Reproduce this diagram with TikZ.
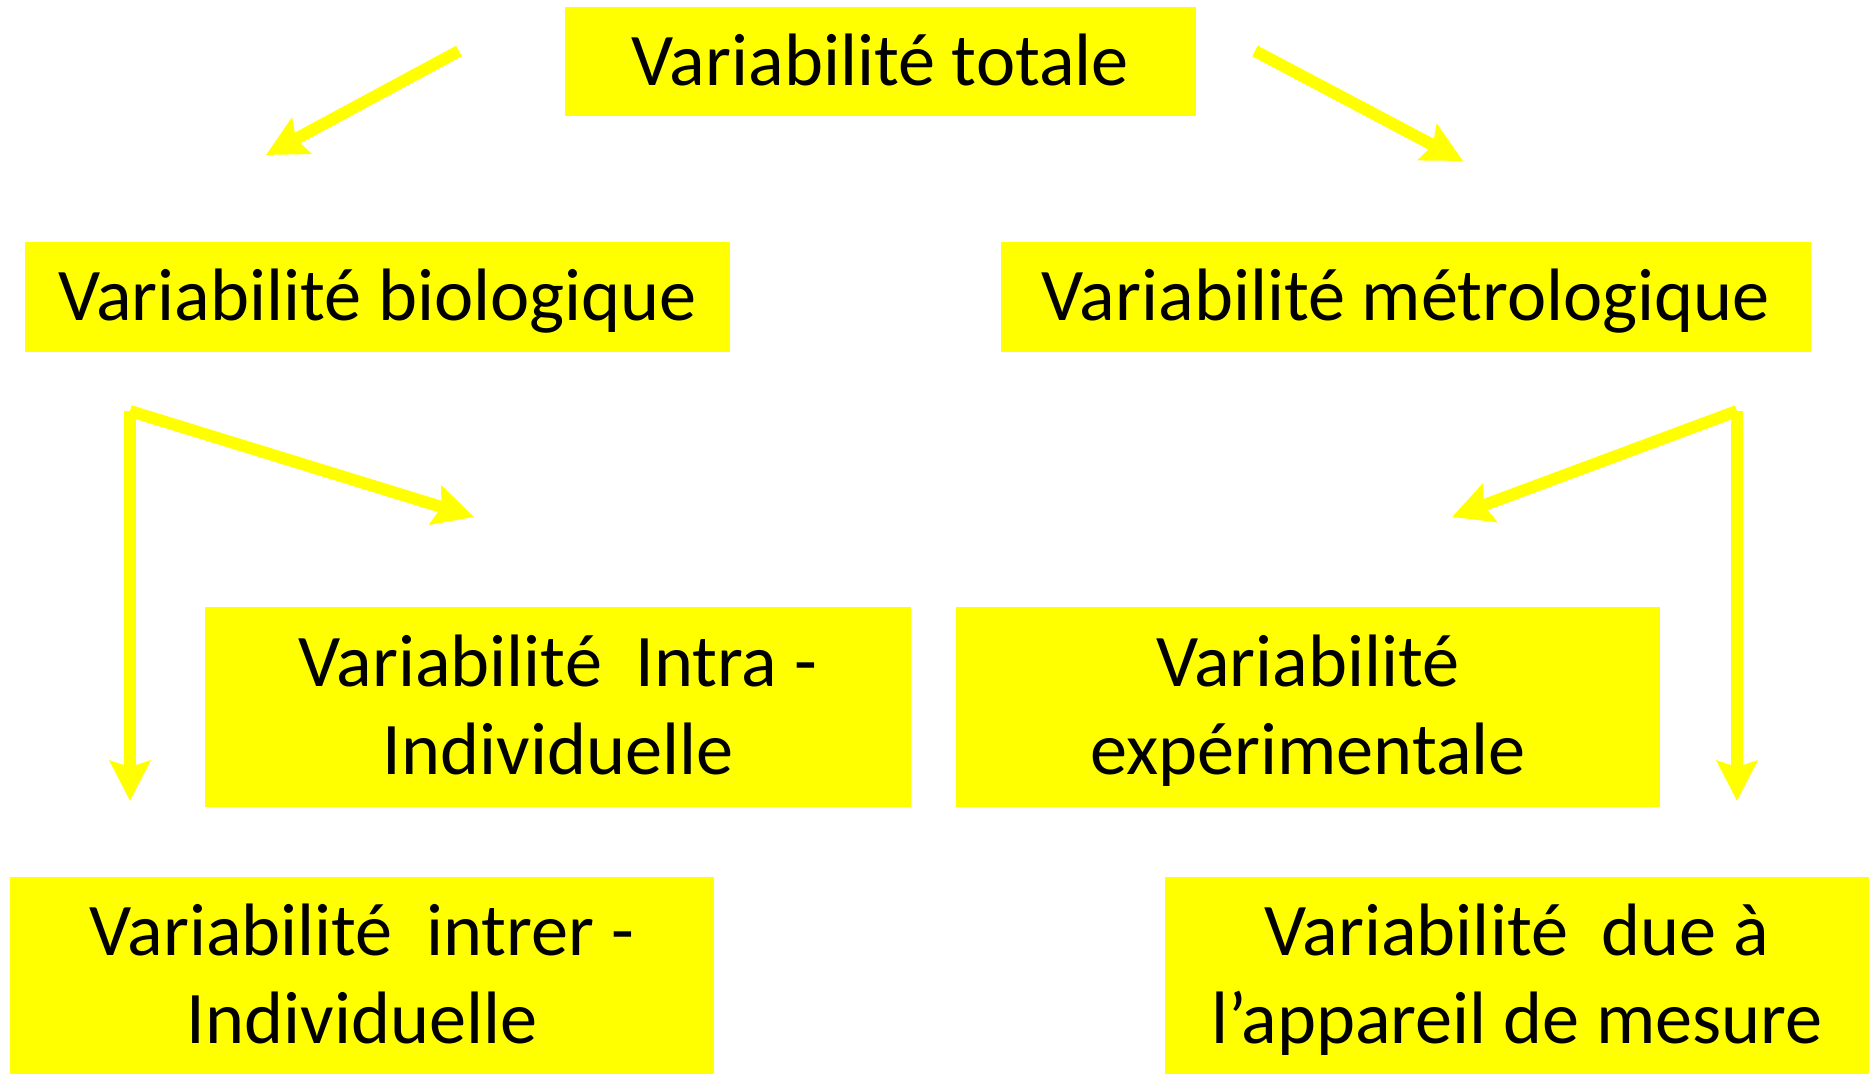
\documentclass[tikz,border=0pt]{standalone}
\usepackage{fontspec}
\setmainfont{Carlito}
\usetikzlibrary{arrows.meta}
\definecolor{boxyellow}{HTML}{FFFF00}
\newcommand\lnstrut{\rule[-0.25em]{0pt}{1.144em}}
\begin{document}
\begin{tikzpicture}[x=1pt,y=-1pt,
  box/.style={fill=boxyellow, inner sep=0pt, align=center,
    font=\fontsize{74.3}{88}\selectfont},
  conn/.style={draw=boxyellow, line width=12pt,
    -{Stealth[length=40pt,width=40pt,inset=6pt]}}]
\useasboundingbox (0,0) rectangle (1869,1074);
\node[box, minimum width=631pt, minimum height=109pt] (tot) at (880.5,61.5) {\lnstrut Variabilité totale};
\node[box, minimum width=705pt, minimum height=110pt] (bio) at (377.5,297) {\lnstrut Variabilité biologique};
\node[box, minimum width=810pt, minimum height=110pt] (met) at (1406,297) {\lnstrut Variabilité métrologique};
\node[box, minimum width=706pt, minimum height=200pt] (intra) at (558,707) {\lnstrut Variabilité\ \ Intra -\\\lnstrut Individuelle};
\node[box, minimum width=704pt, minimum height=200pt] (exp) at (1308,707) {\lnstrut Variabilité\\\lnstrut expérimentale};
\node[box, minimum width=704pt, minimum height=197pt] (inter) at (362,975.5) {\lnstrut Variabilité\ \ intrer -\\\lnstrut Individuelle};
\node[box, minimum width=704pt, minimum height=197pt] (app) at (1517,975.5) {\lnstrut Variabilité\ \ due à\\\lnstrut l’appareil de mesure};
\coordinate (a1s) at (459,51);
\coordinate (a1e) at (266,155);
\coordinate (a2s) at (1255,51);
\coordinate (a2e) at (1463,161);
\coordinate (bl) at (130,411);
\coordinate (bld) at (130,801);
\coordinate (bla) at (474,517);
\coordinate (br) at (1737,411);
\coordinate (brd) at (1737,801);
\coordinate (bra) at (1452,517);
\draw[conn] (a1s) -- (a1e);
\draw[conn] (a2s) -- (a2e);
\draw[conn] (bl) -- (bld);
\draw[conn] (bl) -- (bla);
\draw[conn] (br) -- (brd);
\draw[conn] (br) -- (bra);
\end{tikzpicture}
\end{document}
